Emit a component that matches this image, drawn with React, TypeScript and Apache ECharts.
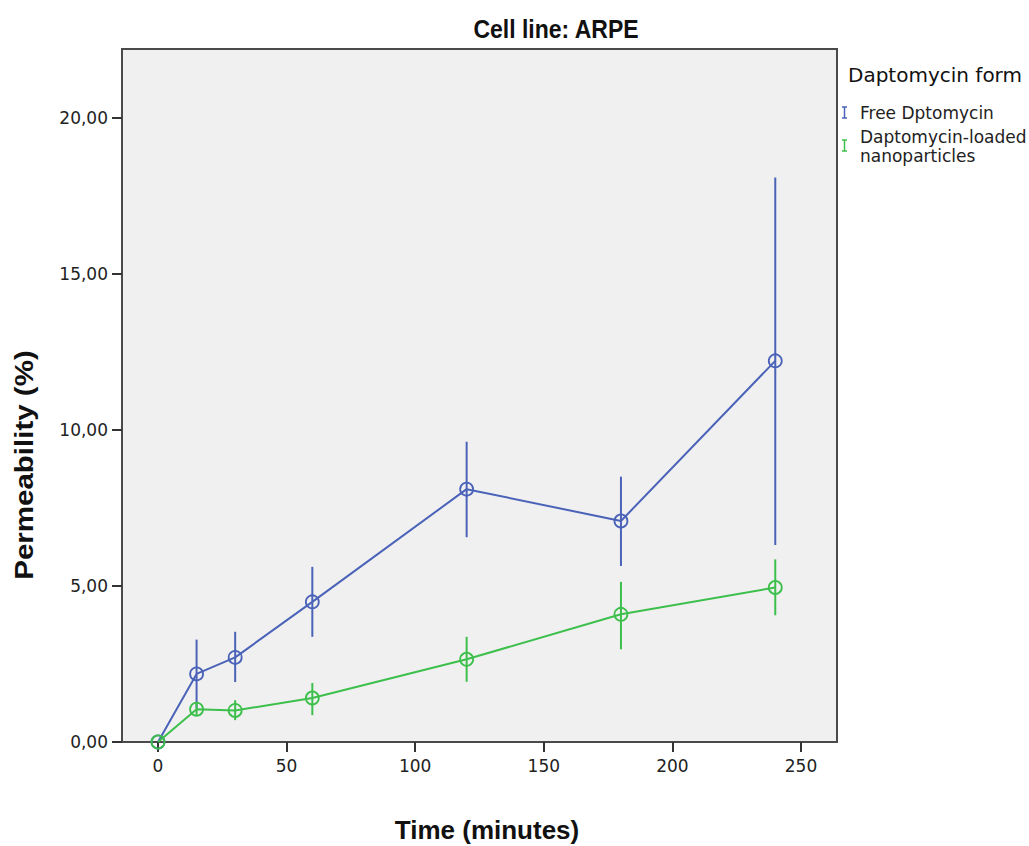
import React, { useEffect, useRef } from "react";
import * as echarts from "echarts";

const times = [0, 15, 30, 60, 120, 180, 240];
const freeMean = [0, 2.18, 2.71, 4.49, 8.1, 7.08, 12.21];
const freeLow = [0, 1.08, 1.92, 3.37, 6.56, 5.64, 6.31];
const freeHigh = [0, 3.28, 3.53, 5.61, 9.62, 8.5, 18.08];
const nanoMean = [0, 1.05, 1.01, 1.41, 2.65, 4.09, 4.95];
const nanoLow = [0, 0.85, 0.7, 0.86, 1.93, 2.97, 4.06];
const nanoHigh = [0, 1.25, 1.34, 1.89, 3.37, 5.13, 5.85];
const xTicks = [0, 50, 100, 150, 200, 250];
const yTicks = [0, 5, 10, 15, 20];

const seriesNames = ["Free Dptomycin", "Daptomycin-loaded\nnanoparticles"];
const BLUE = "#4a62b8";
const GREEN = "#3cbf4b";

function errSeries(name: string, color: string, low: number[], high: number[]) {
  return {
    type: "custom",
    name: name + " error",
    z: 3,
    data: times.map((t, i) => [t, low[i], high[i]]),
    encode: { x: 0, y: [1, 2] },
    renderItem: (_p: any, api: any) => {
      const x = api.value(0);
      const a = api.coord([x, api.value(1)]);
      const b = api.coord([x, api.value(2)]);
      return {
        type: "line",
        shape: { x1: a[0], y1: a[1], x2: b[0], y2: b[1] },
        style: { stroke: color, lineWidth: 2 },
      };
    },
  };
}

function lineSeries(name: string, color: string, mean: number[]) {
  return {
    type: "line",
    name,
    z: 4,
    data: times.map((t, i) => [t, mean[i]]),
    symbol: "circle",
    symbolSize: 13,
    itemStyle: { color: "rgba(0,0,0,0)", borderColor: color, borderWidth: 1.8 },
    lineStyle: { color, width: 2 },
  };
}

function legendIcon(y: number, color: string) {
  return {
    type: "group",
    children: [
      { type: "line", shape: { x1: 842, y1: y, x2: 847, y2: y }, style: { stroke: color, lineWidth: 1.5 } },
      { type: "line", shape: { x1: 844.5, y1: y, x2: 844.5, y2: y + 11 }, style: { stroke: color, lineWidth: 1.5 } },
      { type: "line", shape: { x1: 842, y1: y + 11, x2: 847, y2: y + 11 }, style: { stroke: color, lineWidth: 1.5 } },
    ],
  };
}

export default function App() {
  const ref = useRef<HTMLDivElement>(null);
  useEffect(() => {
    if (!ref.current) return;
    const chart = echarts.init(ref.current, null, { renderer: "svg" });
    const tickFont = "DejaVu Sans";
    chart.setOption({
      animation: false,
      backgroundColor: "#ffffff",
      grid: {
        left: 122,
        top: 49,
        width: 715,
        height: 693,
        show: true,
        backgroundColor: "#f0f0f0",
        borderColor: "#4a4a4a",
        borderWidth: 2,
      },
      xAxis: {
        type: "value",
        min: -14,
        max: 264,
        position: "bottom",
        axisLine: { show: false, onZero: false },
        splitLine: { show: false },
        axisTick: { show: true, customValues: xTicks, length: 10, lineStyle: { color: "#333", width: 2 } },
        axisLabel: { customValues: xTicks, fontSize: 17, color: "#222", fontFamily: tickFont, margin: 15 },
      },
      yAxis: {
        type: "value",
        min: 0,
        max: 22.2,
        position: "left",
        axisLine: { show: false, onZero: false },
        splitLine: { show: false },
        axisTick: { show: true, customValues: yTicks, length: 10, lineStyle: { color: "#333", width: 2 } },
        axisLabel: {
          customValues: yTicks,
          fontSize: 17,
          color: "#222",
          fontFamily: tickFont,
          margin: 14,
          formatter: (v: number) => v.toFixed(2).replace(".", ","),
        },
      },
      series: [
        errSeries(seriesNames[0], BLUE, freeLow, freeHigh),
        lineSeries(seriesNames[0], BLUE, freeMean),
        errSeries(seriesNames[1], GREEN, nanoLow, nanoHigh),
        lineSeries(seriesNames[1], GREEN, nanoMean),
      ],
      graphic: [
        {
          type: "text",
          x: 556,
          y: 29,
          scaleY: 1.1,
          style: {
            text: "Cell line: ARPE",
            font: 'bold 23px "Liberation Sans", Arial, sans-serif',
            fill: "#111",
            align: "center",
            verticalAlign: "middle",
            textAlign: "center",
            textVerticalAlign: "middle",
          },
        },
        {
          type: "text",
          x: 487,
          y: 830,
          style: {
            text: "Time (minutes)",
            font: 'bold 26px "Liberation Sans", Arial, sans-serif',
            fill: "#111",
            align: "center",
            verticalAlign: "middle",
            textAlign: "center",
            textVerticalAlign: "middle",
          },
        },
        {
          type: "text",
          x: 24,
          y: 465,
          rotation: Math.PI / 2,
          scaleX: 1.18,
          style: {
            text: "Permeability (%)",
            font: 'bold 25px "Liberation Sans", Arial, sans-serif',
            fill: "#111",
            align: "center",
            verticalAlign: "middle",
            textAlign: "center",
            textVerticalAlign: "middle",
          },
        },
        {
          type: "text",
          x: 848,
          y: 75,
          style: {
            text: "Daptomycin form",
            font: '20px "DejaVu Sans", sans-serif',
            fill: "#111",
            align: "left",
            verticalAlign: "middle",
            textAlign: "left",
            textVerticalAlign: "middle",
          },
        },
        legendIcon(107, BLUE),
        {
          type: "text",
          x: 860,
          y: 113,
          style: {
            text: seriesNames[0],
            font: '17px "DejaVu Sans", sans-serif',
            fill: "#222",
            align: "left",
            verticalAlign: "middle",
            textAlign: "left",
            textVerticalAlign: "middle",
          },
        },
        legendIcon(140, GREEN),
        {
          type: "text",
          x: 860,
          y: 146,
          style: {
            text: seriesNames[1],
            font: '17px "DejaVu Sans", sans-serif',
            lineHeight: 19,
            fill: "#222",
            align: "left",
            verticalAlign: "middle",
            textAlign: "left",
            textVerticalAlign: "middle",
          },
        },
      ],
    });
    return () => chart.dispose();
  }, []);
  return (
    <div
      ref={ref}
      style={{ position: "absolute", left: 0, top: 0, width: 1029, height: 846 }}
    />
  );
}
